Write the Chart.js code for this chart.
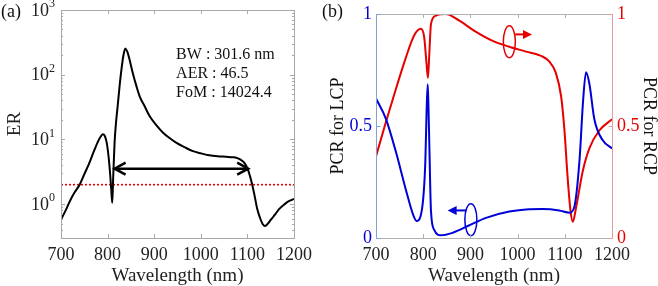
<!DOCTYPE html>
<html>
<head>
<meta charset="utf-8">
<script src="https://cdn.jsdelivr.net/npm/chart.js@4.4.0/dist/chart.umd.min.js"></script>
<style>
body{margin:0;background:#fff;}
#wrap{position:relative;width:658px;height:286px;overflow:hidden;font-family:"Liberation Serif",serif;}
#cA{position:absolute;left:0;top:0;width:320px;height:286px;}
#cB{position:absolute;left:318px;top:0;width:340px;height:286px;}
.lbl{position:absolute;top:2px;font-size:18px;line-height:18px;color:#111;}
</style>
</head>
<body>
<div id="wrap">
<canvas id="cA" width="320" height="286"></canvas>
<canvas id="cB" width="340" height="286"></canvas>
<div class="lbl" style="left:1px">(a)</div>
<div class="lbl" style="left:322px">(b)</div>
</div>
<script>
// (a) extinction ratio vs wavelength
var wlA = [700,710,720,730,740,750,760,770,780,786,790,794,798,802,806,808,810,812,815,818,822,826,830,834,838,842,846,854,862,869,880,890,905,919,933,947,965,983,1000,1018,1036,1054,1070,1080,1090,1095,1100,1105,1110,1115,1121,1128,1133,1138,1144,1150,1160,1168,1180,1190,1200];
var erA = [0.58,0.80,1.15,1.55,2.0,2.9,4.2,6.4,9.5,11.3,12.0,11.3,9.0,5.5,2.6,1.6,1.05,2.6,9,18,35,70,125,200,255,230,185,106,66,46,32,23,16.5,12.7,10.5,8.9,7.6,6.6,6.1,5.7,5.5,5.4,5.3,5.1,4.6,4.2,3.6,2.8,2.05,1.4,0.85,0.59,0.49,0.46,0.5,0.57,0.7,0.84,1.0,1.12,1.2];
var thresholdER = 2;
var bwArrow = [815, 1101.7];
var bwLevel = 3.54;
var yTickExps = [0, 1, 2, 3];
var infoLines = ['BW : 301.6 nm', 'AER : 46.5', 'FoM : 14024.4'];
var infoPos = [947, 204];

// (b) polarization conversion ratio
var wlL = [700,721,742,764,778,786,797,804.5,807,809.5,811,813,816.5,823.6,837.7,862,898,933,982.5,1018,1053,1088,1110,1120,1131,1139,1145,1152,1162.6,1180,1200];
var lcp = [0.623,0.532,0.386,0.21,0.108,0.076,0.123,0.34,0.55,0.686,0.6,0.415,0.12,0.035,0.012,0.023,0.057,0.09,0.118,0.127,0.129,0.123,0.113,0.137,0.342,0.62,0.74,0.69,0.53,0.437,0.40];
var wlR = [700,721,742,764,781,795,802,807,810,813,816.5,827,848,876.5,912,947,982.5,1018,1053,1067,1081,1092,1099,1106,1112,1117,1124,1138,1152,1173,1200];
var rcp = [0.364,0.518,0.664,0.81,0.905,0.934,0.898,0.78,0.715,0.825,0.956,0.993,1.0,0.97,0.92,0.88,0.854,0.832,0.81,0.788,0.737,0.635,0.488,0.27,0.123,0.072,0.137,0.298,0.4,0.48,0.53];
var pcrTicks = [0, 0.5, 1];
var wlTicks = [700, 800, 900, 1000, 1100, 1200];
// marker ellipses: [x, y, arrow from x, arrow to x, arrow y]
var rcpMark = [982.5, 0.876, 995, 1030.5, 0.909];
var lcpMark = [901, 0.082, 890.7, 851.8, 0.123];

var FONT = '"Liberation Serif", "Times New Roman", serif';
var RED = '#e80000', BLUE = '#0000d8';

function pts(xs, ys) {
	var out = [];
	for (var i in xs) out.push({x: xs[i], y: ys[i]});
	return out;
}

function tickMarks(ctx, a, xs, len) {
	for (var i in xs) {
		ctx.beginPath();
		ctx.moveTo(xs[i], a.bottom); ctx.lineTo(xs[i], a.bottom - len);
		ctx.moveTo(xs[i], a.top); ctx.lineTo(xs[i], a.top + len);
		ctx.stroke();
	}
}

var axesA = {
	id: 'axesA',
	afterDraw: function(chart) {
		var ctx = chart.ctx, a = chart.chartArea, x = chart.scales.x, y = chart.scales.y;
		ctx.save();
		// arrow heads of bandwidth arrow
		var py = y.getPixelForValue(bwLevel);
		var x1 = x.getPixelForValue(bwArrow[0]), x2 = x.getPixelForValue(bwArrow[1]);
		ctx.strokeStyle = '#000';
		ctx.lineWidth = 2.5;
		ctx.beginPath();
		ctx.moveTo(x1 + 11, py - 6); ctx.lineTo(x1, py); ctx.lineTo(x1 + 11, py + 6);
		ctx.moveTo(x2 - 11, py - 6); ctx.lineTo(x2, py); ctx.lineTo(x2 - 11, py + 6);
		ctx.stroke();
		// box
		ctx.strokeStyle = '#a8a8a8';
		ctx.lineWidth = 1;
		ctx.strokeRect(Math.round(a.left) + 0.5, Math.round(a.top) + 0.5, Math.round(a.width), Math.round(a.height));
		var xs = [];
		for (var i in wlTicks) xs.push(Math.round(x.getPixelForValue(wlTicks[i])) + 0.5);
		tickMarks(ctx, a, xs, 4);
		for (var e = -1; e <= 2; e++) {
			for (var m = 1; m <= 9; m++) {
				var v = m * Math.pow(10, e);
				if (v < y.min || v > y.max) continue;
				var yy = Math.round(y.getPixelForValue(v)) + 0.5;
				var len = m === 1 ? 4 : 2;
				ctx.beginPath();
				ctx.moveTo(a.left, yy); ctx.lineTo(a.left + len, yy);
				ctx.moveTo(a.right, yy); ctx.lineTo(a.right - len, yy);
				ctx.stroke();
			}
		}
		// y tick labels 10^n
		ctx.fillStyle = '#222';
		ctx.textBaseline = 'middle';
		for (var k in yTickExps) {
			var ty = y.getPixelForValue(Math.pow(10, yTickExps[k]));
			ctx.font = '18px ' + FONT;
			ctx.textAlign = 'right';
			ctx.fillText('10', a.left - 12, ty + 1);
			ctx.font = '12px ' + FONT;
			ctx.textAlign = 'left';
			ctx.fillText(String(yTickExps[k]), a.left - 12, ty - 6);
		}
		// info text
		ctx.font = '16px ' + FONT;
		ctx.fillStyle = '#111';
		ctx.textAlign = 'left';
		var tx = x.getPixelForValue(infoPos[0]), t0 = y.getPixelForValue(infoPos[1]);
		for (var j = 0; j < infoLines.length; j++) {
			ctx.fillText(infoLines[j], tx, t0 + j * 19);
		}
		ctx.restore();
	}
};

function drawMark(ctx, x, y, mk, color) {
	var cx = x.getPixelForValue(mk[0]), cy = y.getPixelForValue(mk[1]);
	var ax1 = x.getPixelForValue(mk[2]), ax2 = x.getPixelForValue(mk[3]), ay = y.getPixelForValue(mk[4]);
	ctx.strokeStyle = color;
	ctx.fillStyle = color;
	ctx.lineWidth = 1.5;
	ctx.beginPath();
	ctx.ellipse(cx, cy, 6, 16, 0, 0, Math.PI * 2);
	ctx.stroke();
	var dir = ax2 > ax1 ? 1 : -1;
	ctx.lineWidth = 2;
	ctx.beginPath();
	ctx.moveTo(ax1, ay); ctx.lineTo(ax2 - dir * 7, ay);
	ctx.stroke();
	ctx.beginPath();
	ctx.moveTo(ax2, ay); ctx.lineTo(ax2 - dir * 9, ay - 4.5); ctx.lineTo(ax2 - dir * 9, ay + 4.5);
	ctx.closePath();
	ctx.fill();
}

var axesB = {
	id: 'axesB',
	afterDraw: function(chart) {
		var ctx = chart.ctx, a = chart.chartArea, x = chart.scales.x, y = chart.scales.y;
		ctx.save();
		drawMark(ctx, x, y, rcpMark, RED);
		drawMark(ctx, x, y, lcpMark, BLUE);
		var L = Math.round(a.left) + 0.5, R = Math.round(a.right) + 0.5;
		var T = Math.round(a.top) + 0.5, B = Math.round(a.bottom) + 0.5;
		ctx.lineWidth = 1;
		ctx.strokeStyle = '#b0b0b0';
		ctx.beginPath();
		ctx.moveTo(L, T); ctx.lineTo(R, T);
		ctx.moveTo(L, B); ctx.lineTo(R, B);
		ctx.stroke();
		var xs = [];
		for (var i in wlTicks) xs.push(Math.round(x.getPixelForValue(wlTicks[i])) + 0.5);
		tickMarks(ctx, a, xs, 4);
		ctx.strokeStyle = '#7fa2d4';
		ctx.beginPath(); ctx.moveTo(L, T); ctx.lineTo(L, B);
		for (var k in pcrTicks) {
			var yy = Math.round(y.getPixelForValue(pcrTicks[k])) + 0.5;
			ctx.moveTo(L, yy); ctx.lineTo(L + 4, yy);
		}
		ctx.stroke();
		ctx.strokeStyle = '#e49a9a';
		ctx.beginPath(); ctx.moveTo(R, T); ctx.lineTo(R, B);
		for (var k2 in pcrTicks) {
			var yy2 = Math.round(y.getPixelForValue(pcrTicks[k2])) + 0.5;
			ctx.moveTo(R, yy2); ctx.lineTo(R - 4, yy2);
		}
		ctx.stroke();
		ctx.restore();
	}
};

var tickFont = {family: FONT, size: 18, lineHeight: 1};
var titleFont = {family: FONT, size: 19, lineHeight: 1};
var noGrid = {display: false, drawTicks: false};
function plain(v) { return String(v); }

new Chart(document.getElementById('cA'), {
	type: 'line',
	data: {
		datasets: [
			{data: pts(wlA, erA), borderColor: '#000', borderWidth: 2, pointRadius: 0, cubicInterpolationMode: 'monotone'},
			{data: pts([700, 1200], [thresholdER, thresholdER]), borderColor: RED, borderWidth: 1.6, borderDash: [2, 2], pointRadius: 0},
			{data: pts(bwArrow, [bwLevel, bwLevel]), borderColor: '#000', borderWidth: 2.5, pointRadius: 0}
		]
	},
	options: {
		responsive: false,
		animation: false,
		plugins: {legend: {display: false}, tooltip: {enabled: false}},
		layout: {padding: {top: 10, right: 25, left: 0, bottom: 0}},
		scales: {
			x: {
				type: 'linear', min: 700, max: 1200,
				ticks: {stepSize: 100, font: tickFont, color: '#222', padding: 8, maxRotation: 0, callback: plain},
				grid: noGrid, border: {display: false},
				title: {display: true, text: 'Wavelength (nm)', font: titleFont, color: '#222', padding: {top: 0, bottom: 0}},
				afterFit: function(s) { s.height = 48; }
			},
			y: {
				type: 'logarithmic', min: 0.31, max: 1000,
				ticks: {display: false},
				grid: noGrid, border: {display: false},
				title: {display: true, text: 'ER', font: {family: FONT, size: 19}, color: '#222', padding: {top: 4, bottom: 0}},
				afterFit: function(s) { s.width = 61; }
			}
		}
	},
	plugins: [axesA]
});

new Chart(document.getElementById('cB'), {
	type: 'line',
	data: {
		datasets: [
			{data: pts(wlL, lcp), yAxisID: 'y', borderColor: BLUE, borderWidth: 2, pointRadius: 0, cubicInterpolationMode: 'monotone'},
			{data: pts(wlR, rcp), yAxisID: 'y1', borderColor: RED, borderWidth: 2, pointRadius: 0, cubicInterpolationMode: 'monotone'}
		]
	},
	options: {
		responsive: false,
		animation: false,
		plugins: {legend: {display: false}, tooltip: {enabled: false}},
		layout: {padding: {top: 10, right: 0, left: 0, bottom: 0}},
		scales: {
			x: {
				type: 'linear', min: 700, max: 1200,
				ticks: {stepSize: 100, font: tickFont, color: '#222', padding: 8, maxRotation: 0, callback: plain},
				grid: noGrid, border: {display: false},
				title: {display: true, text: 'Wavelength (nm)', font: titleFont, color: '#222', padding: {top: 0, bottom: 0}},
				afterFit: function(s) { s.height = 48; }
			},
			y: {
				position: 'left', min: 0, max: 1,
				afterBuildTicks: function(s) { s.ticks = pcrTicks.map(function(v) { return {value: v}; }); },
				ticks: {font: tickFont, color: BLUE, padding: 4, callback: plain},
				grid: noGrid, border: {display: false},
				title: {display: true, text: 'PCR for LCP', font: {family: FONT, size: 18}, color: '#111', padding: {top: 9, bottom: 0}},
				afterFit: function(s) { s.width = 58; }
			},
			y1: {
				position: 'right', min: 0, max: 1,
				afterBuildTicks: function(s) { s.ticks = pcrTicks.map(function(v) { return {value: v}; }); },
				ticks: {font: tickFont, color: RED, padding: 5, callback: plain},
				grid: noGrid, border: {display: false},
				title: {display: true, text: 'PCR for RCP', font: {family: FONT, size: 18, lineHeight: 1}, color: '#111', padding: {top: 0, bottom: 0}},
				afterFit: function(s) { s.width = 46; }
			}
		}
	},
	plugins: [axesB]
});
</script>
</body>
</html>
